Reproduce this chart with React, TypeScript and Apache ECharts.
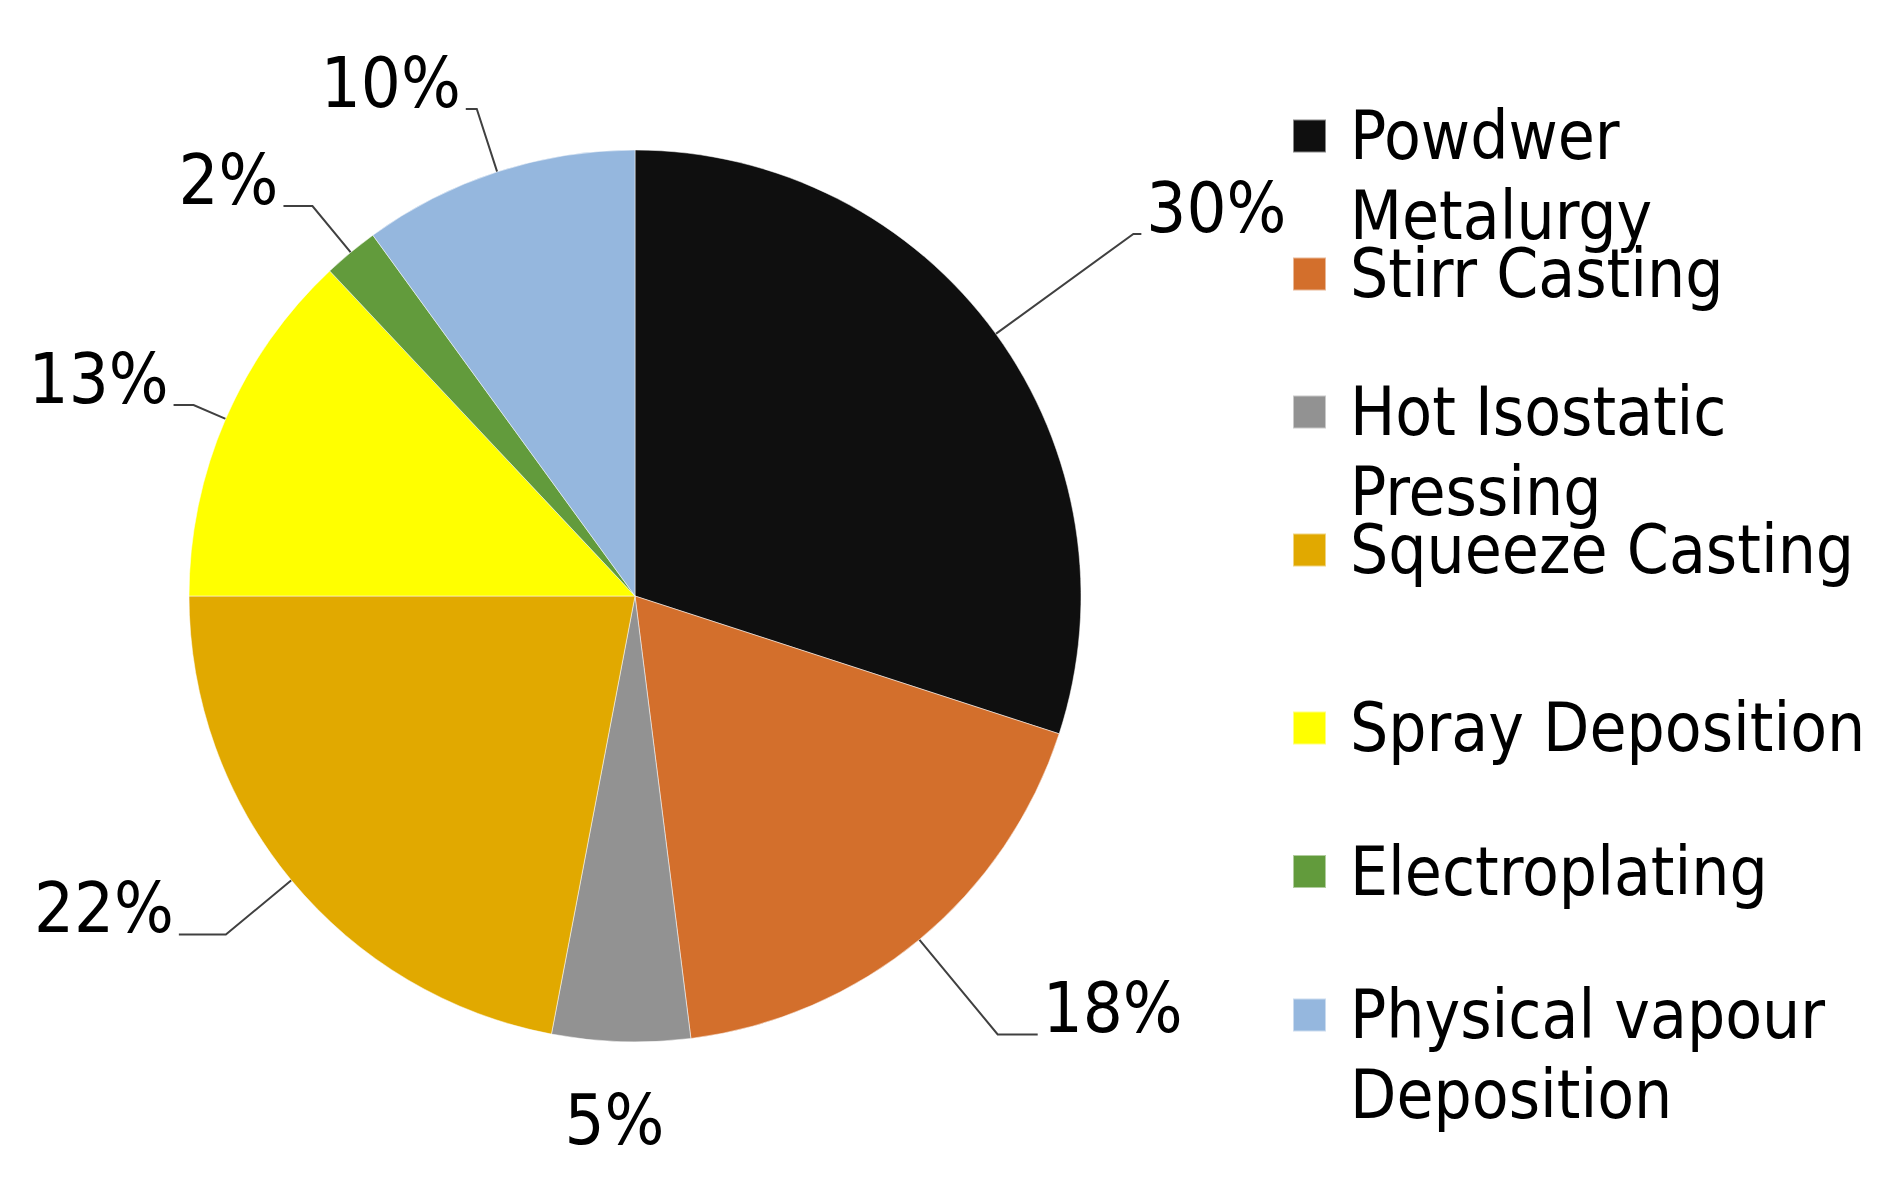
import React, { useEffect, useRef } from "react";
import * as echarts from "echarts";

const categories = [
  "Powdwer Metalurgy",
  "Stirr Casting",
  "Hot Isostatic Pressing",
  "Squeeze Casting",
  "Spray Deposition",
  "Electroplating",
  "Physical vapour Deposition",
];
const shares = [30, 18, 5, 22, 13, 2, 10];
const legendLines = [
  ["Powdwer", "Metalurgy"],
  ["Stirr Casting"],
  ["Hot Isostatic", "Pressing"],
  ["Squeeze Casting"],
  ["Spray Deposition"],
  ["Electroplating"],
  ["Physical vapour", "Deposition"],
];
const colors = ["#0f0f0f", "#d36f2c", "#929292", "#e1a900", "#ffff00", "#629b3c", "#95b7de"];
const leaderFirst = [170, 123, 52, 85, 35, 60, 66];
const leaderSecond = [8, 40, 0, 47, 20, 29, 11];
const leaderShown = [true, true, false, true, true, true, true];

const FONT = "'DejaVu Sans Condensed', 'DejaVu Sans', sans-serif";

export default function App() {
  const ref = useRef<HTMLDivElement>(null);
  useEffect(() => {
    if (!ref.current) return;
    const chart = echarts.init(ref.current, null, { renderer: "svg" });
    const legendFormatter = (name: string) => {
      const i = categories.indexOf(name);
      const lines = legendLines[i];
      const second = lines.length > 1 ? lines[1] : "\u00a0";
      return "\u00a0\n" + lines[0] + "\n" + second;
    };
    const legendCommon = {
      orient: "vertical",
      left: 1287,
      icon: "rect",
      itemWidth: 33,
      itemHeight: 33,
      selectedMode: false,
      formatter: legendFormatter,
      textStyle: {
        fontFamily: FONT,
        fontSize: 67,
        lineHeight: 80,
        color: "#000",
        padding: [0, 0, 0, 19],
      },
    };
    chart.setOption({
      animation: false,
      backgroundColor: "#fff",
      legend: [
        { ...legendCommon, top: 11, itemGap: -102, data: categories.slice(0, 4) },
        { ...legendCommon, top: 603, itemGap: -96.5, data: categories.slice(4) },
      ],
      series: [
        {
          type: "pie",
          center: [635, 596],
          radius: 446,
          startAngle: 90,
          clockwise: true,
          avoidLabelOverlap: false,
          itemStyle: { borderWidth: 1, borderColor: "rgba(255,255,255,0.5)" },
          label: {
            show: true,
            position: "outside",
            formatter: (p: any) => p.value + "%",
            fontFamily: FONT,
            fontSize: 70,
            lineHeight: 52,
            color: "#000",
          },
          labelLine: {
            show: true,
            lineStyle: { color: "#404040", width: 2 },
          },
          labelLayout: (p: any) =>
            p.dataIndex === 2
              ? { align: "center", verticalAlign: "top" }
              : { verticalAlign: "bottom" },
          data: categories.map((name, i) => ({
            name,
            value: shares[i],
            itemStyle: { color: colors[i] },
            labelLine: {
              show: leaderShown[i],
              length: leaderFirst[i],
              length2: leaderSecond[i],
            },
          })),
        },
      ],
    });
    return () => chart.dispose();
  }, []);
  return (
    <div
      ref={ref}
      style={{ position: "fixed", left: 0, top: 0, width: 1898, height: 1185 }}
    />
  );
}
